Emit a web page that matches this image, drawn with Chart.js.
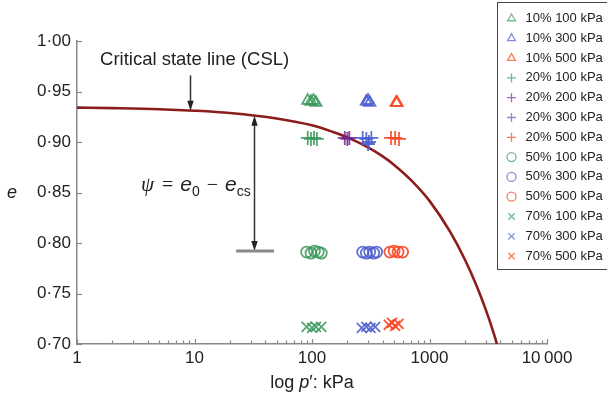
<!DOCTYPE html>
<html><head><meta charset="utf-8">
<script src="https://cdn.jsdelivr.net/npm/chart.js@4/dist/chart.umd.min.js"></script>
<style>html,body{margin:0;padding:0;background:#fff}#wrap{width:607px;height:407px}</style>
</head><body><div id="wrap"><canvas id="c" width="607" height="407"></canvas></div>
<script>
// ---------------- DATA ----------------
const xTickValues = [1,2,3,4,5,6,7,8,9,10,20,30,40,50,60,70,80,90,100,200,300,400,500,600,700,800,900,1000,2000,3000,4000,5000,6000,7000,8000,9000,10000];
const xMajorLabels = {1:'1',10:'10',100:'100',1000:'1000',10000:'10\u2009000'};
const yTickValues = [0.70,0.75,0.80,0.85,0.90,0.95,1.00];
const yTickLabels = ['0·70','0·75','0·80','0·85','0·90','0·95','1·00'];

// critical state line (p' in kPa, e)
const cslP = [1,2,5,10,20,50,100,150,200,300,400,500,700,1000,1500,2000,2500,3000,3500,3750];
const cslE = [0.934,0.9335,0.9325,0.931,0.9287,0.9233,0.9165,0.910,0.9046,0.8947,0.8857,0.8773,0.862,0.8417,0.811,0.7837,0.7584,0.7345,0.7116,0.700];

// [p', e] pairs
const t10_100 = [[92,0.941],[98,0.940],[103,0.941],[108,0.939]];
const t10_300 = [[290,0.940],[300,0.941],[310,0.939]];
const t10_500 = [[520,0.939],[530,0.939]];
const p20_100 = [[92,0.904],[98,0.903],[104,0.904],[110,0.903]];
const p20_200 = [[190,0.904],[200,0.903],[208,0.904]];
const p20_300 = [[270,0.904],[290,0.903],[305,0.900],[320,0.904],[300,0.898]];
const p20_500 = [[470,0.904],[510,0.904],[550,0.903]];
const c50_100 = [[90,0.791],[98,0.790],[105,0.792],[113,0.791],[120,0.790]];
const c50_300 = [[270,0.791],[290,0.790],[310,0.791],[335,0.790],[355,0.791]];
const c50_500 = [[460,0.791],[500,0.792],[540,0.791],[590,0.791]];
const x70_100 = [[90,0.717],[100,0.716],[108,0.717],[120,0.717]];
const x70_300 = [[265,0.716],[290,0.717],[315,0.716],[345,0.717]];
const x70_500 = [[450,0.719],[480,0.721],[510,0.718],[545,0.720]];

const seriesLabels = ['10% 100 kPa','10% 300 kPa','10% 500 kPa','20% 100 kPa','20% 200 kPa','20% 300 kPa','20% 500 kPa','50% 100 kPa','50% 300 kPa','50% 500 kPa','70% 100 kPa','70% 300 kPa','70% 500 kPa'];
const seriesData = [t10_100,t10_300,t10_500,p20_100,p20_200,p20_300,p20_500,c50_100,c50_300,c50_500,x70_100,x70_300,x70_500];

// ---------------- STYLE ----------------
const GREEN='rgba(55,150,90,0.85)', BLUE='rgba(70,90,205,0.85)', RED='rgba(248,70,35,0.9)', PURPLE='rgba(115,35,140,0.85)';
const seriesStyle = [
  {shape:'triangle',color:GREEN,r:6.5},{shape:'triangle',color:BLUE,r:6.5},{shape:'triangle',color:RED,r:6.5},
  {shape:'cross',color:GREEN,r:7},{shape:'cross',color:PURPLE,r:7},{shape:'cross',color:BLUE,r:7},{shape:'cross',color:RED,r:7},
  {shape:'circle',color:GREEN,r:5.5},{shape:'circle',color:BLUE,r:5.5},{shape:'circle',color:RED,r:5.5},
  {shape:'crossRot',color:GREEN,r:7},{shape:'crossRot',color:BLUE,r:7},{shape:'crossRot',color:RED,r:7}
];
const SANS='"Liberation Sans", Arial, Helvetica, sans-serif';
const SERIF='"Liberation Serif", "Times New Roman", serif';
const AXIS='#8a8a8a', TXT='#222';
const annot = {
  cslText:{p:1.57, e:0.981},
  cslArrow:{p:9.2, eFrom:0.966, eTo:0.931},
  psiArrow:{p:32, eTop:0.926, eBottom:0.792},
  psiBar:{pFrom:22.6, pTo:47.5, e:0.792},
  psiText:{p:3.5, e:0.858}
};

const datasets = seriesData.map((d,i)=>({
  label:seriesLabels[i],
  data:d.map(([x,y])=>({x,y})),
  showLine:false,
  pointStyle:seriesStyle[i].shape,
  pointRadius:seriesStyle[i].r,
  pointBorderWidth:1.8,
  borderColor:seriesStyle[i].color,
  backgroundColor:'rgba(0,0,0,0)',
  pointBackgroundColor:'rgba(0,0,0,0)'
}));
datasets.push({
  label:'CSL', type:'line',
  data:cslP.map((p,i)=>({x:p,y:cslE[i]})),
  showLine:true, borderColor:'#8b1d1d', borderWidth:2.6, pointRadius:0,
  cubicInterpolationMode:'monotone', fill:false
});

function arrowHead(ctx,x,y,dir){ // dir 1 = pointing down, -1 = up
  ctx.beginPath(); ctx.moveTo(x,y); ctx.lineTo(x-3.2,y-10*dir); ctx.lineTo(x+3.2,y-10*dir); ctx.closePath(); ctx.fill();
}

const overlay = {
  id:'overlay',
  afterDraw(chart){
    const {ctx, chartArea:a, scales:{x,y}} = chart;
    ctx.save();
    // tick marks (inside)
    ctx.strokeStyle=AXIS; ctx.lineWidth=1.2;
    x.ticks.forEach(t=>{
      const px=Math.round(x.getPixelForValue(t.value))+0.5;
      const len = xMajorLabels[t.value]!==undefined ? 5 : 3.5;
      ctx.beginPath(); ctx.moveTo(px,a.bottom); ctx.lineTo(px,a.bottom-len); ctx.stroke();
    });
    y.ticks.forEach(t=>{
      const py=Math.round(y.getPixelForValue(t.value))+0.5;
      ctx.beginPath(); ctx.moveTo(a.left,py); ctx.lineTo(a.left+5,py); ctx.stroke();
    });
    // CSL text and arrow
    ctx.fillStyle=TXT; ctx.font='18.5px '+SANS; ctx.textBaseline='middle'; ctx.textAlign='left';
    ctx.fillText('Critical state line (CSL)', x.getPixelForValue(annot.cslText.p), y.getPixelForValue(annot.cslText.e));
    ctx.strokeStyle='#333'; ctx.fillStyle='#222'; ctx.lineWidth=1.5;
    let ax=Math.round(x.getPixelForValue(annot.cslArrow.p))+0.5;
    let y1=y.getPixelForValue(annot.cslArrow.eFrom), y2=y.getPixelForValue(annot.cslArrow.eTo);
    ctx.beginPath(); ctx.moveTo(ax,y1); ctx.lineTo(ax,y2-6); ctx.stroke(); arrowHead(ctx,ax,y2,1);
    // psi double arrow
    ax=Math.round(x.getPixelForValue(annot.psiArrow.p))+0.5;
    y1=y.getPixelForValue(annot.psiArrow.eTop); y2=y.getPixelForValue(annot.psiArrow.eBottom);
    ctx.beginPath(); ctx.moveTo(ax,y1+6); ctx.lineTo(ax,y2-6); ctx.stroke();
    arrowHead(ctx,ax,y1,-1); arrowHead(ctx,ax,y2,1);
    ctx.strokeStyle='#888'; ctx.lineWidth=3;
    const by=y.getPixelForValue(annot.psiBar.e);
    ctx.beginPath(); ctx.moveTo(x.getPixelForValue(annot.psiBar.pFrom),by); ctx.lineTo(x.getPixelForValue(annot.psiBar.pTo),by); ctx.stroke();
    // psi text: [text, font, baseline shift, gap after]
    let tx=x.getPixelForValue(annot.psiText.p); const ty=y.getPixelForValue(annot.psiText.e);
    ctx.fillStyle=TXT; ctx.textBaseline='alphabetic';
    const parts=[['ψ','italic 21px '+SERIF,0,8],['=','20px '+SERIF,0,7],['e','italic 21px '+SANS,0,0],['0','14px '+SANS,5,7],['−','20px '+SERIF,0,7],['e','italic 21px '+SANS,0,0],['cs','14px '+SANS,5,0]];
    parts.forEach(([s,f,dy,g])=>{ctx.font=f; ctx.fillText(s,tx,ty+7+dy); tx+=ctx.measureText(s).width+g;});
    // axis titles
    ctx.font='italic 18px '+SANS; ctx.textAlign='center'; ctx.textBaseline='middle';
    ctx.fillText('e', 12, (a.top+a.bottom)/2);
    const tparts=[['log ','18px '+SANS],['p','italic 18px '+SANS],['′: kPa','18px '+SANS]];
    let w=0; tparts.forEach(([s,f])=>{ctx.font=f; w+=ctx.measureText(s).width;});
    let cx=(a.left+a.right)/2 - w/2; ctx.textAlign='left';
    tparts.forEach(([s,f])=>{ctx.font=f; ctx.fillText(s,cx,383); cx+=ctx.measureText(s).width;});
    // legend
    ctx.fillStyle='#fff'; ctx.fillRect(497,2,115,268);
    ctx.strokeStyle='#444'; ctx.lineWidth=1; ctx.strokeRect(497.5,2.5,115,267);
    ctx.font='13px '+SANS; ctx.textBaseline='middle';
    seriesLabels.forEach((lab,i)=>{
      const ly=18.5+19.8*i;
      ctx.strokeStyle=seriesStyle[i].color; ctx.fillStyle='rgba(0,0,0,0)'; ctx.globalAlpha=0.8; ctx.lineWidth=1.3;
      Chart.helpers.drawPoint(ctx,{pointStyle:seriesStyle[i].shape,radius:4.5,borderWidth:1.3,rotation:0},511.5,ly);
      ctx.globalAlpha=1; ctx.fillStyle=TXT;
      ctx.fillText(lab,525.5,ly);
    });
    ctx.restore();
  }
};

new Chart(document.getElementById('c'),{
  type:'scatter',
  data:{datasets},
  options:{
    responsive:false, animation:false, devicePixelRatio:1,
    layout:{padding:{top:41,right:60,left:0,bottom:0}},
    plugins:{legend:{display:false},tooltip:{enabled:false}},
    scales:{
      x:{type:'logarithmic',min:1,max:10000,
        afterBuildTicks:s=>{s.ticks=xTickValues.map(v=>({value:v}));},
        afterFit:s=>{s.height=63;},
        ticks:{autoSkip:false,maxRotation:0,padding:-4,color:TXT,font:{size:17,family:SANS},callback:v=>xMajorLabels[v]!==undefined?xMajorLabels[v]:''},
        grid:{display:false},border:{display:true,color:AXIS,width:1.5}},
      y:{type:'linear',min:0.70,max:1.00,
        afterBuildTicks:s=>{s.ticks=yTickValues.map(v=>({value:v}));},
        afterFit:s=>{s.width=77;},
        ticks:{padding:-2,color:TXT,font:{size:17,family:SANS},callback:v=>{const k=yTickValues.findIndex(t=>Math.abs(t-v)<1e-6);return k>=0?yTickLabels[k]:'';}},
        grid:{display:false},border:{display:true,color:AXIS,width:1.5}}
    }
  },
  plugins:[overlay]
});
</script></body></html>
